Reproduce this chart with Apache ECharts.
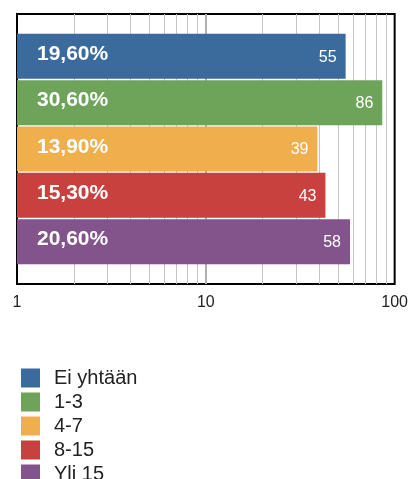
<!DOCTYPE html>
<html lang="fi">
<head>
    <meta charset="UTF-8">
    <title>Bar chart</title>
    <script src="https://cdn.jsdelivr.net/npm/echarts@6/dist/echarts.min.js"></script>
    <style>
        html, body { margin: 0; padding: 0; background: #fff; }
        #main { width: 411px; height: 479px; }
    </style>
</head>
<body>
<div id="main"></div>
<script>
    // data
    var groups = ['Ei yhtään', '1-3', '4-7', '8-15', 'Yli 15'];
    var counts = [55, 86, 39, 43, 58];
    var percents = ['19,60%', '30,60%', '13,90%', '15,30%', '20,60%'];
    var colors = ['#3b6a9d', '#6da45a', '#eeaf4c', '#c8413f', '#83538b'];
    var minorTicks = [2, 3, 4, 5, 6, 7, 8, 9, 20, 30, 40, 50, 60, 70, 80, 90];
    var majorTicks = [10];

    var chart = echarts.init(document.getElementById('main'));
    var FONT = 'Liberation Sans, Helvetica, Arial, sans-serif';

    var gridLines = minorTicks.map(function (t) { return { xAxis: t }; })
        .concat(majorTicks.map(function (t) {
            return { xAxis: t, lineStyle: { color: '#b0b0b0', width: 2 } };
        }));

    var series = [];
    // coloured bars with count labels
    groups.forEach(function (g, i) {
        var s = {
            name: g,
            type: 'bar',
            yAxisIndex: 0,
            barWidth: 45,
            barGap: '3%',
            data: [counts[i]],
            itemStyle: { color: colors[i] },
            label: {
                show: true,
                position: 'insideRight',
                distance: 9,
                color: '#fff',
                fontFamily: FONT,
                fontSize: 16,
                offset: [0, 1]
            }
        };
        if (i === 0) {
            s.markLine = {
                silent: true,
                z: 1,
                symbol: ['none', 'none'],
                label: { show: false },
                lineStyle: { color: '#c4c4c4', width: 1, type: 'solid' },
                data: gridLines
            };
        }
        series.push(s);
    });
    // transparent copies carrying the percent labels
    groups.forEach(function (g, i) {
        series.push({
            name: g + ' %',
            type: 'bar',
            yAxisIndex: 1,
            barWidth: 45,
            barGap: '3%',
            data: [counts[i]],
            itemStyle: { color: 'rgba(0,0,0,0)' },
            label: {
                show: true,
                position: 'insideLeft',
                distance: 20,
                color: '#fff',
                fontFamily: FONT,
                fontWeight: 'bold',
                fontSize: 21,
                offset: [0, -2],
                formatter: function () { return percents[i]; }
            }
        });
    });

    chart.setOption({
        animation: false,
        grid: {
            left: 17,
            right: 15,
            top: 14,
            height: 270,
            show: true,
            borderColor: '#000',
            borderWidth: 2,
            backgroundColor: '#fff',
            z: 0
        },
        legend: {
            data: groups,
            orient: 'vertical',
            left: 21,
            top: 368,
            height: 140,
            padding: 0,
            icon: 'rect',
            itemWidth: 19,
            itemHeight: 19,
            itemGap: 4,
            selectedMode: false,
            textStyle: {
                fontFamily: FONT,
                fontSize: 20,
                color: '#222',
                lineHeight: 19,
                padding: [0, 0, 0, 9]
            }
        },
        xAxis: {
            type: 'log',
            logBase: 10,
            min: 1,
            max: 100,
            axisLine: { show: false },
            axisTick: { show: false },
            axisLabel: {
                color: '#222',
                fontFamily: FONT,
                fontSize: 16,
                margin: 11
            },
            splitLine: { show: false }
        },
        yAxis: [
            {
                type: 'category',
                data: [''],
                show: false
            },
            {
                type: 'category',
                data: [''],
                show: false
            }
        ],
        series: series
    });
</script>
</body>
</html>
